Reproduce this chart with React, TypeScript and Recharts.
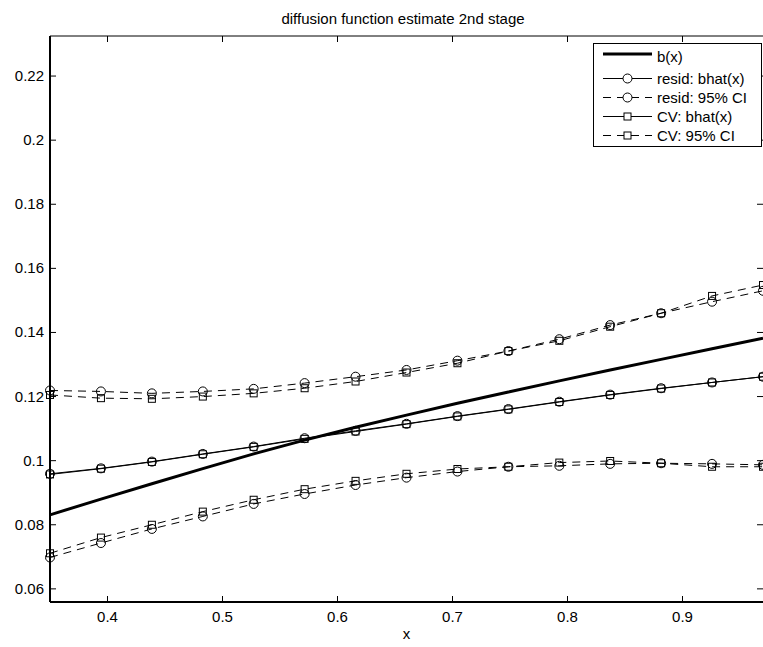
import React from 'react';
import { LineChart, Line, XAxis, YAxis, ReferenceLine } from 'recharts';

// ---- data ----
const xValues = [0.35, 0.3943, 0.4386, 0.4829, 0.5271, 0.5714, 0.6157, 0.66, 0.7043, 0.7486, 0.7929, 0.8371, 0.8814, 0.9257, 0.97];
const bTrue = [0.0831, 0.088, 0.0928, 0.0975, 0.1021, 0.1064, 0.1104, 0.1142, 0.1179, 0.1214, 0.1249, 0.1283, 0.1316, 0.1349, 0.1382];
const residHat = [0.0959, 0.0976, 0.0997, 0.1021, 0.1044, 0.107, 0.1093, 0.1115, 0.1139, 0.1161, 0.1184, 0.1206, 0.1226, 0.1244, 0.1262];
const residUpper = [0.1219, 0.1216, 0.121, 0.1216, 0.1224, 0.1242, 0.1262, 0.1283, 0.1312, 0.1342, 0.1379, 0.1423, 0.146, 0.1496, 0.153];
const residLower = [0.0698, 0.0743, 0.0787, 0.0826, 0.0865, 0.0896, 0.0924, 0.0947, 0.0966, 0.0981, 0.0984, 0.099, 0.0992, 0.099, 0.0987];
const cvHat = [0.0957, 0.0975, 0.0996, 0.102, 0.1043, 0.1068, 0.1091, 0.1114, 0.1138, 0.116, 0.1183, 0.1205, 0.1225, 0.1244, 0.1262];
const cvUpper = [0.1205, 0.1195, 0.1193, 0.12, 0.121, 0.1226, 0.1247, 0.1275, 0.1304, 0.1342, 0.1374, 0.1418, 0.146, 0.1514, 0.1548];
const cvLower = [0.0711, 0.076, 0.08, 0.0841, 0.0878, 0.0911, 0.0937, 0.0959, 0.0974, 0.0981, 0.0994, 0.0999, 0.0992, 0.0981, 0.0981];

const xTicks = [0.4, 0.5, 0.6, 0.7, 0.8, 0.9];
const yTicks = [0.06, 0.08, 0.1, 0.12, 0.14, 0.16, 0.18, 0.2, 0.22];
const xDomain = [0.35, 0.97];
const yDomain = [0.0559, 0.2325];

const titleText = 'diffusion function estimate 2nd stage';
const xLabelText = 'x';
const legendLabels = ['b(x)', 'resid: bhat(x)', 'resid: 95% CI', 'CV: bhat(x)', 'CV: 95% CI'];

const data = xValues.map((x, i) => ({
  x,
  b: bTrue[i],
  rh: residHat[i],
  ru: residUpper[i],
  rl: residLower[i],
  ch: cvHat[i],
  cu: cvUpper[i],
  cl: cvLower[i],
}));

// ---- layout ----
const W = 763;
const H = 647;
const FONT = '"Liberation Sans", Arial, Helvetica, sans-serif';
const FS = 15;
const PLOT_LEFT = 50;
const PLOT_TOP = 36;
const PLOT_RIGHT = 763;
const X_AXIS_H = 45;
const TICK = 6;
const DASH = '8 6';

const fmt = (v: number) => String(Number(v.toFixed(2)));

const XTick = (props: any) => {
  const { x, y, payload } = props;
  return (
    <g>
      <line x1={x} x2={x} y1={y} y2={y - TICK} stroke="#000" strokeWidth={1} />
      <line x1={x} x2={x} y1={PLOT_TOP} y2={PLOT_TOP + TICK} stroke="#000" strokeWidth={1} />
      <text x={x} y={y + 20} textAnchor="middle" fontSize={FS} fontFamily={FONT} fill="#000">
        {fmt(payload.value)}
      </text>
    </g>
  );
};

const YTick = (props: any) => {
  const { x, y, payload } = props;
  return (
    <g>
      <line x1={x} x2={x + TICK} y1={y} y2={y} stroke="#000" strokeWidth={1} />
      <line x1={PLOT_RIGHT - TICK} x2={PLOT_RIGHT} y1={y} y2={y} stroke="#000" strokeWidth={1} />
      <text x={x - 6} y={y + 5} textAnchor="end" fontSize={FS} fontFamily={FONT} fill="#000">
        {fmt(payload.value)}
      </text>
    </g>
  );
};

const circleDot = (props: any) => {
  const { cx, cy, index } = props;
  return <circle key={`c${index}`} cx={cx} cy={cy} r={4.5} fill="none" stroke="#000" strokeWidth={1} />;
};
const squareDot = (props: any) => {
  const { cx, cy, index } = props;
  return <rect key={`s${index}`} x={cx - 3.5} y={cy - 3.5} width={7} height={7} fill="none" stroke="#000" strokeWidth={1} />;
};

const Legend = () => {
  const rows = [54, 78.5, 97.5, 116.5, 135.5];
  const left = 593;
  const top = 43;
  const w = 169;
  const h = 104;
  const lx1 = 603 - left;
  const lx2 = 652 - left;
  const mx = (lx1 + lx2) / 2;
  const tx = 657 - left;
  return (
    <svg width={w} height={h} style={{ position: 'absolute', left, top }}>
      <rect x={0.5} y={0.5} width={w - 1} height={h - 1} fill="#fff" stroke="#000" strokeWidth={1} />
      {legendLabels.map((lab, i) => {
        const y = rows[i] - top;
        const dashed = i === 2 || i === 4;
        const square = i >= 3;
        return (
          <g key={lab}>
            <line
              x1={lx1}
              x2={lx2}
              y1={y}
              y2={y}
              stroke="#000"
              strokeWidth={i === 0 ? 3 : 1}
              strokeDasharray={dashed ? DASH : undefined}
            />
            {i > 0 && !square && <circle cx={mx} cy={y} r={4.5} fill="#fff" stroke="#000" />}
            {square && <rect x={mx - 3.5} y={y - 3.5} width={7} height={7} fill="#fff" stroke="#000" />}
            <text x={tx} y={y + 5 + (i === 0 ? 3 : 0)} fontSize={FS} fontFamily={FONT} fill="#000">
              {lab}
            </text>
          </g>
        );
      })}
    </svg>
  );
};

export default function App() {
  return (
    <div style={{ position: 'absolute', left: 0, top: 0, width: W, height: H, background: '#fff', overflow: 'hidden' }}>
      <div
        style={{
          position: 'absolute',
          left: 0,
          width: 806,
          top: 11,
          textAlign: 'center',
          fontFamily: FONT,
          fontSize: FS,
          lineHeight: '15px',
          whiteSpace: 'nowrap',
        }}
      >
        {titleText}
      </div>
      <div style={{ position: 'absolute', left: 0, top: 0 }}>
        <LineChart width={W} height={H} data={data} margin={{ top: PLOT_TOP, right: W - PLOT_RIGHT, bottom: 0, left: 0 }}>
          <XAxis
            dataKey="x"
            type="number"
            domain={xDomain}
            ticks={xTicks}
            interval={0}
            height={X_AXIS_H}
            tickSize={0}
            tickMargin={0}
            tickLine={false}
            axisLine={{ stroke: '#000', strokeWidth: 2 }}
            tick={XTick}
            label={{ value: xLabelText, position: 'insideBottom', offset: 8, fontSize: FS, fontFamily: FONT, fill: '#000' }}
          />
          <YAxis
            type="number"
            domain={yDomain}
            ticks={yTicks}
            interval={0}
            width={PLOT_LEFT}
            tickSize={0}
            tickMargin={0}
            tickLine={false}
            axisLine={{ stroke: '#000', strokeWidth: 2 }}
            tick={YTick}
          />
          <ReferenceLine y={yDomain[1]} stroke="#000" strokeWidth={1} />
          <Line dataKey="b" stroke="#000" strokeWidth={3} dot={false} isAnimationActive={false} />
          <Line dataKey="rh" stroke="#000" strokeWidth={1} dot={circleDot} isAnimationActive={false} />
          <Line dataKey="ru" stroke="#000" strokeWidth={1} strokeDasharray={DASH} dot={circleDot} isAnimationActive={false} />
          <Line dataKey="rl" stroke="#000" strokeWidth={1} strokeDasharray={DASH} dot={circleDot} isAnimationActive={false} />
          <Line dataKey="ch" stroke="#000" strokeWidth={1} dot={squareDot} isAnimationActive={false} />
          <Line dataKey="cu" stroke="#000" strokeWidth={1} strokeDasharray={DASH} dot={squareDot} isAnimationActive={false} />
          <Line dataKey="cl" stroke="#000" strokeWidth={1} strokeDasharray={DASH} dot={squareDot} isAnimationActive={false} />
        </LineChart>
      </div>
      <Legend />
    </div>
  );
}
